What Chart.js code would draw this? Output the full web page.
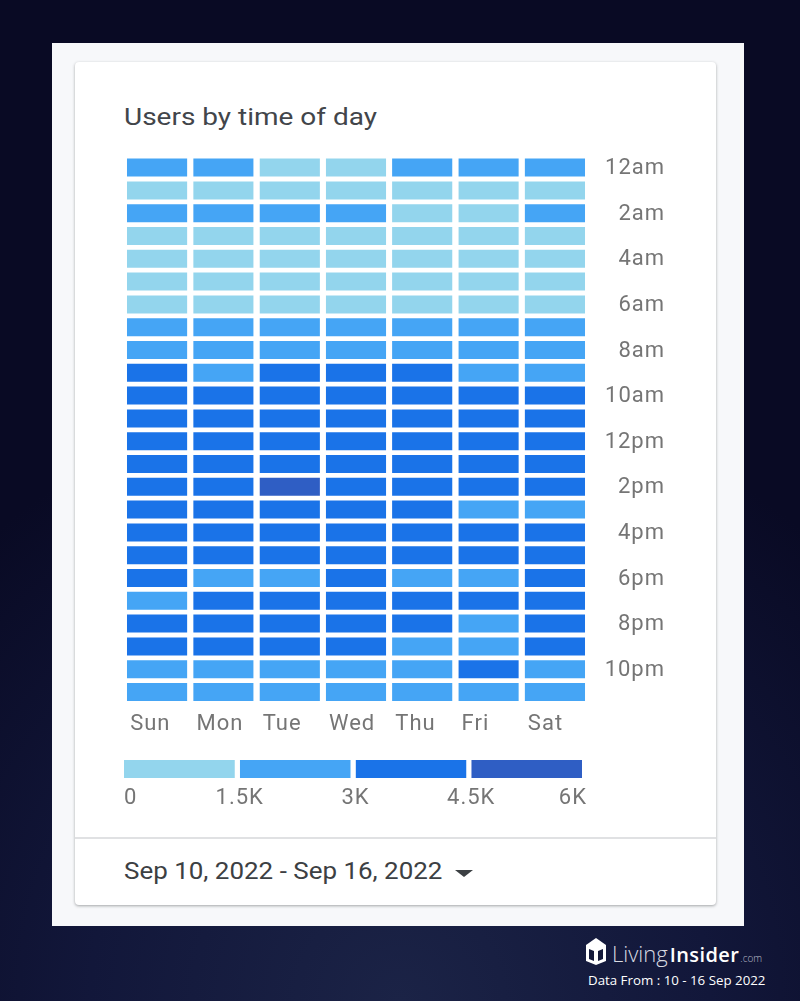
<!DOCTYPE html>
<html>
<head>
<meta charset="utf-8">
<title>Users by time of day</title>
<script src="https://cdn.jsdelivr.net/npm/chart.js@4"></script>
<style>
    html, body { margin: 0; padding: 0; }
    body {
        position: relative;
        width: 800px;
        height: 1001px;
        overflow: hidden;
        font-family: Roboto, sans-serif;
        background: radial-gradient(ellipse 620px 620px at 400px 1001px, #1b2346 0%, #12173a 50%, #090a24 100%);
    }
    #panel { position: absolute; left: 52px; top: 43px; width: 692px; height: 883px; background: #f7f8fa; }
    #card {
        position: absolute; left: 75px; top: 62px; width: 641px; height: 843px;
        background: #fff; border-radius: 4px;
        box-shadow: 0 1px 3px rgba(60, 64, 67, 0.45);
    }
    #title { position: absolute; left: 124px; top: 101px; font-size: 24px; line-height: 32px; color: #42454a; white-space: nowrap; transform: scaleX(1.166); transform-origin: left top; }
    #divider { position: absolute; left: 75px; top: 837px; width: 641px; height: 2px; background: #e0e1e3; }
    #range { position: absolute; left: 124px; top: 857px; font-size: 23px; line-height: 30px; color: #3c4043; white-space: nowrap; transform: scaleX(1.128); transform-origin: left top; }
    #caret { position: absolute; left: 455px; top: 870px; width: 0; height: 0; border-left: 9px solid transparent; border-right: 9px solid transparent; border-top: 7px solid #3c4043; }
    #heatmapBox { position: absolute; left: 100px; top: 140px; width: 580px; height: 600px; }
    #legendBox { position: absolute; left: 100px; top: 750px; width: 510px; height: 62px; }
    #logo { position: absolute; left: 585px; top: 938px; width: 22px; height: 27px; }
    #brand { position: absolute; left: 612px; top: 938px; font-family: "Open Sans", sans-serif; font-size: 22px; font-weight: 300; line-height: 30px; color: #d9dbe2; white-space: nowrap; }
    #brand span { font-size: 20px; font-weight: 600; color: #fff; margin-left: 2px; letter-spacing: 0.4px; }
    #brand small { font-size: 10px; color: #b9bcc8; margin-left: 1px; }
    #source { position: absolute; left: 588px; top: 970px; font-family: "Open Sans", sans-serif; font-size: 13.3px; line-height: 20px; color: #fff; white-space: nowrap; font-weight: 500; }
</style>
</head>
<body>
<div id="panel"></div>
<div id="card"></div>
<div id="title">Users by time of day</div>
<div id="heatmapBox"><canvas id="heatmap"></canvas></div>
<div id="legendBox"><canvas id="legend"></canvas></div>
<div id="divider"></div>
<div id="range">Sep 10, 2022 - Sep 16, 2022</div>
<div id="caret"></div>
<svg id="logo" viewBox="0 0 22 27">
    <path d="M11 0 L21 7 L21 23 L11 27 L1 23 L1 7 Z" fill="#fff"/>
    <path d="M4 11 L9 13 L9 23 L4 21 Z M13 13 L18 11 L18 21 L13 23 Z" fill="#141a3a"/>
</svg>
<div id="brand">Living<span>Insider</span><small>.com</small></div>
<div id="source">Data From : 10 - 16 Sep 2022</div>

<script>
// Chart values (users per hour, one list per weekday, 12am first). Only the colour band
// can be read off the picture, so the numbers are estimates inside each band.
const days = ['Sun', 'Mon', 'Tue', 'Wed', 'Thu', 'Fri', 'Sat'];
const hours = ['12am', '1am', '2am', '3am', '4am', '5am', '6am', '7am', '8am', '9am', '10am', '11am',
    '12pm', '1pm', '2pm', '3pm', '4pm', '5pm', '6pm', '7pm', '8pm', '9pm', '10pm', '11pm'];
const sunUsers = [1720, 1210, 1690, 1120, 980, 870, 1050, 1850, 2500, 3150, 3600, 3800, 3900, 3750, 3820, 3640, 3700, 3500, 3100, 2900, 3300, 3200, 2850, 2300];
const monUsers = [1680, 1150, 1640, 1080, 940, 910, 1120, 1950, 2700, 2950, 3700, 3900, 4000, 3950, 4100, 3800, 3650, 3400, 2800, 3300, 3500, 3250, 2700, 2200];
const tueUsers = [1440, 1100, 1620, 1060, 920, 890, 1180, 2050, 2800, 3200, 3800, 4000, 4200, 4300, 4720, 3900, 3750, 3450, 2900, 3400, 3600, 3300, 2750, 2150];
const wedUsers = [1420, 1130, 1660, 1040, 900, 880, 1210, 2100, 2850, 3250, 3900, 4050, 4100, 4150, 4250, 3850, 3800, 3500, 3050, 3450, 3550, 3200, 2600, 2100];
const thuUsers = [1600, 1090, 1460, 1010, 890, 860, 1230, 2150, 2900, 3300, 3850, 4000, 4050, 4100, 4200, 3700, 3600, 3300, 2850, 3350, 3400, 2950, 2500, 2050];
const friUsers = [1580, 1070, 1430, 990, 860, 840, 1190, 2080, 2750, 2900, 3650, 3700, 3800, 3900, 3950, 2950, 3450, 3150, 2700, 3200, 2900, 2800, 3050, 2000];
const satUsers = [1650, 1120, 1610, 1030, 930, 850, 1090, 1900, 2600, 2850, 3500, 3650, 3700, 3550, 3600, 2850, 3250, 3200, 3050, 3150, 3100, 3050, 2400, 1950];
const dayUsers = [sunUsers, monUsers, tueUsers, wedUsers, thuUsers, friUsers, satUsers];

// Legend bands and tick labels
const bandLimits = [1500, 3000, 4500, 6000];
const bandColors = ['#93d5ed', '#45a5f5', '#1a73e8', '#2f5ec4'];
const legendTicks = { 0: '0', 1500: '1.5K', 3000: '3K', 4500: '4.5K', 6000: '6K' };

const tickColor = '#757575';
const tickFont = { family: 'Roboto', size: 22 };

// The reference text runs wide, canvas resets its state on resize so set it before each draw
const wideText = {
    id: 'wideText',
    beforeUpdate: chart => { chart.ctx.letterSpacing = '1px'; },
    beforeDraw: chart => { chart.ctx.letterSpacing = '1px'; }
};

function colorFor(users) {
    const band = bandLimits.findIndex(limit => users < limit);
    return bandColors[band];
}

// One stacked dataset per hour: every cell is one hour tall, the colour carries the users
function buildHourDatasets() {
    return hours.map((hour, h) => ({
        label: hour,
        data: days.map(() => 1),
        backgroundColor: dayUsers.map(users => colorFor(users[h])),
        borderColor: '#ffffff',
        borderWidth: { top: 2.4, bottom: 2.4, left: 0, right: 0 },
        borderSkipped: false,
        inflateAmount: 0,
        barPercentage: 0.912,
        categoryPercentage: 1
    }));
}

function renderHeatmap() {
    const ctx = document.getElementById('heatmap').getContext('2d');
    new Chart(ctx, {
        type: 'bar',
        data: { labels: days, datasets: buildHourDatasets() },
        plugins: [wideText],
        options: {
            responsive: true,
            maintainAspectRatio: false,
            animation: false,
            events: [],
            layout: { padding: { left: 24, right: 15, top: 15.6, bottom: 0 } },
            plugins: { legend: { display: false }, tooltip: { enabled: false } },
            scales: {
                x: {
                    stacked: true,
                    grid: { display: false, tickLength: 0 },
                    border: { display: false },
                    afterFit: scale => { scale.height = 36.6; },
                    ticks: {
                        color: tickColor,
                        font: tickFont,
                        align: 'start',
                        labelOffset: -27,
                        padding: 8,
                        maxRotation: 0,
                        autoSkip: false
                    }
                },
                y: {
                    stacked: true,
                    reverse: true,
                    position: 'right',
                    min: 0,
                    max: 24,
                    grid: { display: false, tickLength: 9 },
                    border: { display: false },
                    afterFit: scale => { scale.width = 77; },
                    // labels sit on the middle of every other row
                    afterBuildTicks: scale => {
                        scale.ticks = hours.map((hour, h) => ({ value: h + 0.5 })).filter((t, h) => h % 2 === 0);
                    },
                    ticks: {
                        color: tickColor,
                        font: tickFont,
                        crossAlign: 'far',
                        labelOffset: 1,
                        callback: value => hours[Math.floor(value)]
                    }
                }
            }
        }
    });
}

function renderLegend() {
    const ctx = document.getElementById('legend').getContext('2d');
    new Chart(ctx, {
        type: 'bar',
        data: {
            labels: ['Users'],
            datasets: bandLimits.map((limit, i) => ({
                label: legendTicks[limit],
                data: [1500],
                backgroundColor: bandColors[i],
                borderColor: '#ffffff',
                borderWidth: { right: 5, left: 0, top: 0, bottom: 0 },
                borderSkipped: false,
                inflateAmount: 0,
                barPercentage: 1,
                categoryPercentage: 1
            }))
        },
        plugins: [wideText],
        options: {
            indexAxis: 'y',
            responsive: true,
            maintainAspectRatio: false,
            animation: false,
            events: [],
            layout: { padding: { left: 24, right: 23, top: 10, bottom: 0 } },
            plugins: { legend: { display: false }, tooltip: { enabled: false } },
            scales: {
                x: {
                    stacked: true,
                    min: 0,
                    max: 6000,
                    grid: { display: false, tickLength: 0 },
                    border: { display: false },
                    afterFit: scale => { scale.height = 34; },
                    ticks: {
                        stepSize: 1500,
                        color: tickColor,
                        font: tickFont,
                        align: 'inner',
                        padding: 7,
                        maxRotation: 0,
                        callback: value => legendTicks[value]
                    }
                },
                y: {
                    stacked: true,
                    display: false
                }
            }
        }
    });
}

window.onload = function () {
    renderHeatmap();
    renderLegend();
};
</script>
</body>
</html>
